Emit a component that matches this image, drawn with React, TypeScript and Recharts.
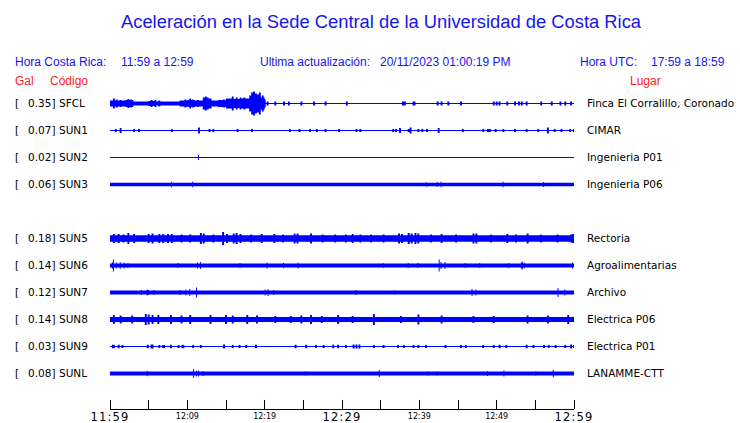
import React from "react";
import { ComposedChart, Area, XAxis, YAxis } from "recharts";

// ---------- data ----------
const stationCodes = ["SFCL", "SUN1", "SUN2", "SUN3", "SUN5", "SUN6", "SUN7", "SUN8", "SUN9", "SUNL"];
const peakGal = ["0.35", "0.07", "0.02", "0.06", "0.18", "0.14", "0.12", "0.14", "0.03", "0.08"];
const places = [
  "Finca El Corralillo, Coronado",
  "CIMAR",
  "Ingenieria P01",
  "Ingenieria P06",
  "Rectoria",
  "Agroalimentarias",
  "Archivo",
  "Electrica P06",
  "Electrica P01",
  "LANAMME-CTT",
];
// trace slot (SUN4 slot is empty)
const rowIndex = [0, 1, 2, 3, 5, 6, 7, 8, 9, 10];
// background half-amplitude of each trace (display units)
const baseHalf = [0.6, 0.5, 0.5, 1.8, 3.2, 1.9, 1.9, 2.6, 0.5, 1.9];
// SFCL per-minute envelope for the first 20 minutes
const sfclEnvelope = [3, 3, 3.5, 2, 2, 2.5, 2, 2, 2, 3, 3.5, 3, 5, 3, 3.5, 5, 4.5, 5, 8, 6];
// spike width (in sample steps) per trace
const spikeWidth = [2, 2, 1, 1, 2, 1, 1, 2, 2, 1];

// spikes: [minute, half-amplitude]
const sfclSpikes = [
  [0.4, 5], [0.8, 4], [1.2, 3.5], [2.2, 4.5], [2.6, 4], [5.2, 3.5], [5.7, 3.5], [6.2, 3],
  [9.6, 4], [10.2, 5], [10.6, 4], [11.2, 3.5], [12.0, 6], [12.2, 7], [12.5, 6], [12.9, 5],
  [14.6, 4], [15.3, 5], [15.8, 7], [16.2, 6], [16.7, 6], [17.3, 6], [17.6, 5], [18.0, 8],
  [18.3, 11], [18.5, 12], [18.8, 10], [19.0, 9], [19.3, 11], [19.6, 8], [19.9, 4],
  [20.3, 2], [21.3, 2], [22.4, 2], [23.0, 2], [24.6, 2], [26.3, 2], [27.8, 2], [30.5, 2],
  [37.8, 2], [38.0, 2], [39.1, 2], [39.3, 2], [42.3, 2], [42.7, 2], [43.6, 2], [45.3, 2],
  [49.5, 2], [49.9, 2], [50.3, 2], [51.2, 2], [52.2, 2], [52.8, 2], [53.1, 2], [53.8, 2],
  [55.6, 2], [57.0, 2], [58.1, 2], [58.8, 2], [59.5, 2],
];
const sun1Spikes = [
  [0.65, 1.5], [1.3, 2.5], [3.0, 1.5], [3.6, 1.5], [7.9, 1.5], [11.4, 3], [12.8, 1.5], [13.2, 1.5],
  [16.4, 1.5], [18.2, 1.5], [23.1, 1.5], [24.4, 1.5], [25.7, 1.5], [26.6, 1.5], [27.8, 1.5], [29.5, 1.5],
  [31.7, 1.5], [32.2, 1.5], [36.5, 1.5], [36.9, 1.5], [37.4, 2.5], [38.5, 1.5], [38.7, 3], [39.7, 1.5],
  [40.3, 1.5], [40.9, 1.5], [42.4, 2.5], [45.5, 1.5], [48.1, 1.5], [48.8, 1.5], [49.0, 1.5], [49.8, 1.5],
  [50.7, 1.5], [52.2, 1.5], [53.8, 1.5], [55.2, 1.5], [56.5, 3], [57.4, 1.5], [58.3, 1.5], [59.4, 1.5], [59.9, 1.5],
];
const sun2Spikes = [[11.4, 2.5]];
const sun3Spikes = [[7.9, 2.8], [10.6, 2.8], [40.9, 2.3], [42.3, 2.5], [42.7, 2.8], [50.8, 2.8], [56.0, 2.6]];
const sun5Spikes = [
  [0.4, 4.5], [1.0, 4.5], [1.6, 4], [2.3, 5.5], [3.0, 4.5], [4.9, 4.5], [5.4, 5], [6.2, 4.5],
  [6.7, 4.5], [7.4, 4.5], [7.9, 4.5], [9.1, 4], [10.3, 4], [11.6, 5.5], [12.0, 5], [13.2, 4],
  [14.5, 6.5], [15.0, 4.5], [15.9, 5], [16.3, 5.5], [16.8, 4.5], [18.1, 4], [19.5, 4.5],
  [21.1, 4.5], [22.2, 4], [23.7, 5], [24.1, 5], [25.9, 5], [27.4, 4], [29.0, 4], [30.4, 4],
  [31.3, 4.5], [32.3, 4], [33.6, 4], [35.2, 4], [37.2, 5], [37.6, 4.5], [38.5, 5.5], [38.9, 5],
  [39.4, 5.5], [39.8, 5], [41.4, 4], [42.7, 4.5], [44.6, 4], [46.9, 5], [47.3, 5], [49.1, 4],
  [51.3, 4.5], [52.4, 4], [53.9, 5], [55.6, 4], [57.7, 4], [59.5, 4], [59.7, 4.5],
];
const sun6Spikes = [
  [0.2, 3], [0.4, 6], [0.8, 3], [1.3, 3.5], [1.8, 3], [2.3, 2.5], [8.8, 2.5], [11.2, 3],
  [11.6, 3.5], [16.7, 2.5], [20.2, 3], [22.4, 2.5], [24.2, 3], [35.3, 2.5], [38.5, 2.5],
  [39.8, 2.5], [42.5, 6], [42.8, 3.5], [43.3, 3.5], [45.9, 2.5], [47.8, 2.5], [51.5, 2.5],
  [53.1, 3], [53.3, 4], [53.5, 3], [59.7, 3],
];
const sun7Spikes = [
  [4.0, 2.5], [4.7, 3], [4.9, 2.5], [5.6, 2.5], [9.0, 2.5], [9.8, 3], [10.3, 3.5], [11.1, 5],
  [20.0, 3], [20.4, 3.5], [21.1, 2.5], [31.8, 2.5], [36.7, 2.3], [46.8, 3.5], [47.3, 3],
  [57.9, 4.5], [58.8, 3],
];
const sun8Spikes = [
  [0.4, 4.5], [1.2, 4], [2.7, 4], [4.5, 5.5], [4.9, 5], [5.4, 4.5], [6.1, 4.5], [7.8, 4.5],
  [9.1, 4], [10.3, 4.5], [12.9, 4.5], [14.9, 4.5], [15.8, 4], [17.6, 4.5], [18.9, 4],
  [21.3, 3.5], [23.3, 3.5], [24.6, 4], [25.9, 4.5], [27.2, 3.5], [29.4, 4.5], [31.3, 3.5],
  [34.0, 5.5], [37.5, 3.5], [39.7, 5], [42.7, 4], [46.9, 3.5], [49.5, 3.5], [53.9, 4],
  [56.5, 4], [59.1, 4.5],
];
const sun9Spikes = [
  [0.26, 1.8], [0.4, 1.8], [1.0, 1.8], [1.55, 1.5], [4.8, 1.8], [5.2, 2], [5.4, 2], [6.2, 1.5],
  [6.7, 1.5], [6.9, 1.5], [7.8, 1.8], [8.8, 1.5], [9.3, 1.8], [9.4, 1.5], [10.6, 1.5],
  [11.6, 1.5], [14.6, 2], [15.8, 1.5], [16.6, 1.5], [17.5, 1.5], [18.8, 1.8], [23.9, 1.8],
  [25.2, 1.8], [26.5, 1.5], [27.5, 1.5], [28.7, 1.8], [29.4, 1.8], [30.4, 1.5], [31.4, 2],
  [31.7, 2], [32.1, 2], [34.0, 1.5], [35.2, 1.5], [37.1, 1.5], [37.9, 1.5], [39.1, 1.5],
  [39.8, 1.5], [40.7, 1.5], [43.3, 1.5], [45.3, 1.5], [45.9, 1.5], [48.1, 1.5], [49.5, 1.5],
  [50.2, 1.8], [51.1, 1.5], [53.7, 1.8], [54.6, 1.5], [56.0, 1.5], [56.6, 1.5], [57.5, 1.5],
  [58.8, 1.5], [59.5, 2], [59.9, 1.5],
];
const sunlSpikes = [
  [4.8, 2.8], [10.8, 4.5], [11.1, 3], [11.4, 3], [12.0, 2.5], [25.2, 2.2], [34.8, 3.5],
  [41.1, 2.2], [42.3, 2.2], [48.8, 2.5], [50.9, 3], [55.0, 2.2], [57.2, 3.8],
];
const spikeLists = [sfclSpikes, sun1Spikes, sun2Spikes, sun3Spikes, sun5Spikes, sun6Spikes, sun7Spikes, sun8Spikes, sun9Spikes, sunlSpikes];

// time axis (minutes after 11:59)
const xTicks = [0, 5, 10, 15, 20, 25, 30, 35, 40, 45, 50, 55, 60];
const xTickLabels = ["11:59", "", "12:09", "", "12:19", "", "12:29", "", "12:39", "", "12:49", "", "12:59"];
const majorTickLabels = ["11:59", "12:29", "12:59"];

const ROW_SPACING = 27;
const STEPS_PER_MIN = 8;
const TOTAL_MIN = 60;

const rowValues = rowIndex.map((r) => r * ROW_SPACING);

function buildTable() {
  const spikeMaps = spikeLists.map((list, i) => {
    const m = new Map<number, number>();
    list.forEach(([minute, h]) => {
      const k0 = Math.round(minute * STEPS_PER_MIN);
      for (let w = 0; w < spikeWidth[i]; w++) {
        const k = k0 + w;
        m.set(k, Math.max(m.get(k) || 0, h));
      }
    });
    return m;
  });
  const table: any[] = [];
  for (let k = 0; k <= TOTAL_MIN * STEPS_PER_MIN; k++) {
    const t = k / STEPS_PER_MIN;
    const row: any = { t };
    stationCodes.forEach((code, i) => {
      let amp = baseHalf[i];
      if (i === 0 && Math.floor(t) < sfclEnvelope.length) amp = Math.max(amp, sfclEnvelope[Math.floor(t)]);
      const s = spikeMaps[i].get(k);
      if (s) amp = Math.max(amp, s);
      const c = rowValues[i];
      row[code] = [c - amp, c + amp];
    });
    table.push(row);
  }
  return table;
}
const table = buildTable();

const BLUE = "#0000ff";
const TEXT_BLUE = "#1515ee";
const RED = "#ff1a1a";
const SANS = "'Liberation Sans', Arial, sans-serif";
const DEJAVU = "'DejaVu Sans', sans-serif";

const TimeTick = (props: any) => {
  const { x, y, payload } = props;
  const idx = xTicks.indexOf(payload.value);
  const label = idx >= 0 ? xTickLabels[idx] : "";
  const big = majorTickLabels.includes(label);
  return (
    <g>
      <line x1={x} x2={x} y1={y - 9} y2={y} stroke="#000" strokeWidth={1} shapeRendering="crispEdges" />
      {label && (
        <text
          x={x}
          y={big ? y + 12 : y + 10}
          textAnchor="middle"
          fontFamily={DEJAVU}
          fontSize={big ? 11.5 : 8}
          letterSpacing={big ? 1.2 : 0}
          fill="#000"
        >
          {label}
        </text>
      )}
    </g>
  );
};

const StationTick = (props: any) => {
  const { y, payload } = props;
  const i = rowValues.indexOf(payload.value);
  if (i < 0) return null;
  return (
    <g fontFamily={DEJAVU} fontSize={10.5} fill="#000">
      <text x={15} y={y} dy="0.38em">[</text>
      <text x={28} y={y} dy="0.38em">{peakGal[i] + "]"}</text>
      <text x={59} y={y} dy="0.38em">{stationCodes[i]}</text>
    </g>
  );
};

const PlaceTick = (props: any) => {
  const { y, payload } = props;
  const i = rowValues.indexOf(payload.value);
  if (i < 0) return null;
  return (
    <text x={587} y={y} dy="0.38em" fontFamily={DEJAVU} fontSize={10.5} fill="#000">
      {places[i]}
    </text>
  );
};

const Y_DOMAIN = [-28.5, 305.5];

export default function App() {
  return (
    <div style={{ position: "absolute", left: 0, top: 0, width: 740, height: 423, background: "#fff" }}>
      <ComposedChart
        width={740}
        height={423}
        data={table}
        margin={{ top: 75, right: 0, bottom: 0, left: 0 }}
      >
        <XAxis
          dataKey="t"
          type="number"
          domain={[0, TOTAL_MIN]}
          ticks={xTicks}
          interval={0}
          height={14}
          tickSize={0}
          tickMargin={0}
          tickLine={false}
          axisLine={{ stroke: "#000", shapeRendering: "crispEdges" } as any}
          tick={<TimeTick />}
          allowDataOverflow
        />
        <YAxis
          yAxisId="left"
          type="number"
          domain={Y_DOMAIN}
          reversed
          ticks={rowValues}
          interval={0}
          width={110}
          axisLine={false}
          tickLine={false}
          tickSize={0}
          tickMargin={0}
          tick={<StationTick />}
          allowDataOverflow
        />
        <YAxis
          yAxisId="right"
          orientation="right"
          type="number"
          domain={Y_DOMAIN}
          reversed
          ticks={rowValues}
          interval={0}
          width={166}
          axisLine={false}
          tickLine={false}
          tickSize={0}
          tickMargin={0}
          tick={<PlaceTick />}
          allowDataOverflow
        />
        {stationCodes.map((code) => (
          <Area
            key={code}
            yAxisId="left"
            dataKey={code}
            type="stepAfter"
            stroke="none"
            fill={BLUE}
            fillOpacity={1}
            isAnimationActive={false}
            dot={false}
            activeDot={false}
          />
        ))}
      </ComposedChart>
      <svg
        width={740}
        height={423}
        style={{ position: "absolute", left: 0, top: 0, pointerEvents: "none" }}
      >
        <text x={121} y={28} fontFamily={SANS} fontSize={18.35} fill={TEXT_BLUE}>
          Aceleración en la Sede Central de la Universidad de Costa Rica
        </text>
        <g fontFamily={SANS} fontSize={12} fill={TEXT_BLUE}>
          <text x={15} y={65.5}>Hora Costa Rica:</text>
          <text x={121} y={65.5}>11:59 a 12:59</text>
          <text x={260} y={65.5}>Ultima actualización:</text>
          <text x={380} y={65.5}>20/11/2023 01:00:19 PM</text>
          <text x={580} y={65.5}>Hora UTC:</text>
          <text x={651} y={65.5}>17:59 a 18:59</text>
        </g>
        <g fontFamily={SANS} fontSize={12} fill={RED}>
          <text x={15} y={85}>Gal</text>
          <text x={50} y={85}>Código</text>
          <text x={630} y={85}>Lugar</text>
        </g>
      </svg>
    </div>
  );
}
